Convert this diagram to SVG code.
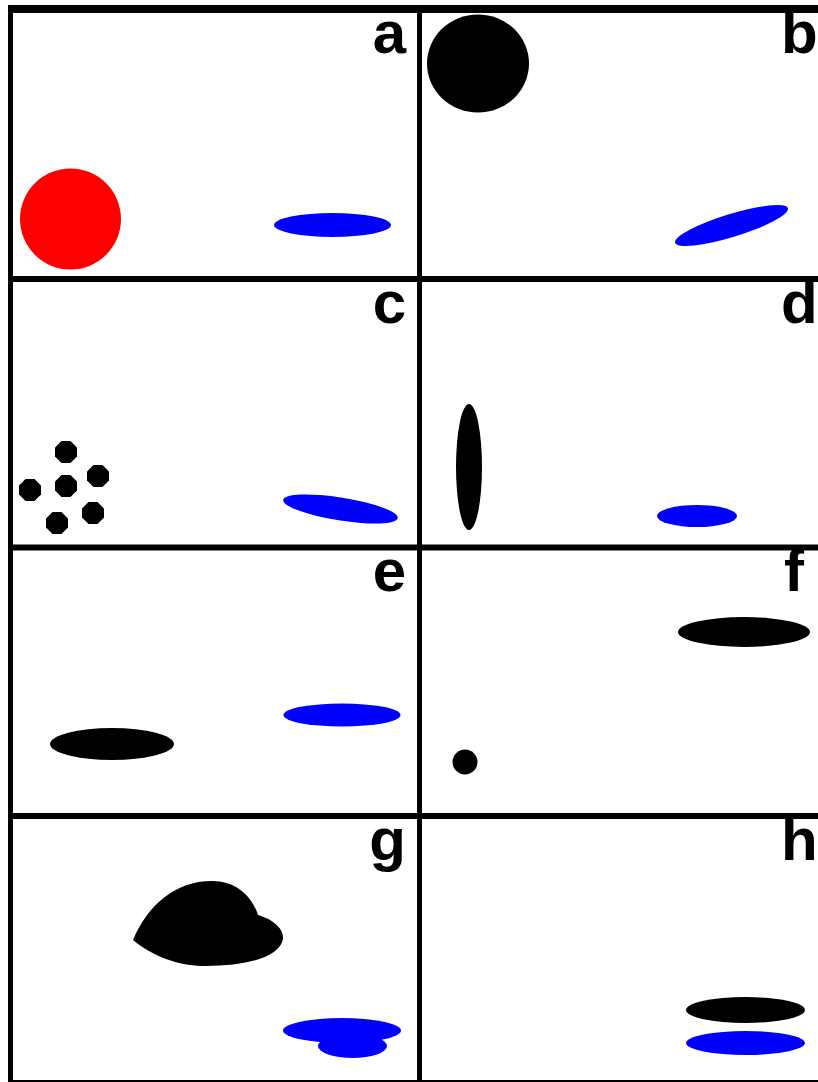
<svg xmlns="http://www.w3.org/2000/svg" width="818" height="1082" viewBox="0 0 818 1082">
<style>
.grid{stroke:#000;stroke-width:6;fill:none}
.lbl{font-family:"Liberation Sans",Arial,sans-serif;font-weight:bold;font-size:60px;fill:#000}
.blk{fill:#000}
.blu{fill:#0000ff}
.red{fill:#ff0000}
</style>
<defs>
<polygon id="oct" points="11,4.5 4.5,11 -4.5,11 -11,4.5 -11,-4.5 -4.5,-11 4.5,-11 11,-4.5"/>
</defs>
<rect x="0" y="0" width="818" height="1082" fill="#fff"/>
<g id="grid" class="grid">
<line x1="8" y1="9" x2="818" y2="9" stroke-width="8"/>
<line x1="10.5" y1="5" x2="10.5" y2="1082" stroke-width="5"/>
<line x1="419.5" y1="9" x2="419.5" y2="1082" stroke-width="5"/>
<line x1="8" y1="279" x2="818" y2="279"/>
<line x1="8" y1="547.5" x2="818" y2="547.5"/>
<line x1="8" y1="816" x2="818" y2="816"/>
<line x1="8" y1="1083" x2="818" y2="1083"/>
</g>
<g id="panel-a">
<circle class="red" cx="70.5" cy="219" r="50.5"/>
<ellipse class="blu" cx="332.5" cy="225" rx="58.5" ry="12"/>
<text class="lbl" x="406" y="53" text-anchor="end">a</text>
</g>
<g id="panel-b">
<ellipse class="blk" cx="478" cy="63.5" rx="51" ry="49"/>
<ellipse class="blu" cx="731.5" cy="225.5" rx="59" ry="11.5" transform="rotate(-17 731.5 225.5)"/>
<text class="lbl" x="781" y="53">b</text>
</g>
<g id="panel-c">
<use href="#oct" class="blk" transform="translate(66 452)"/>
<use href="#oct" class="blk" transform="translate(98 476)"/>
<use href="#oct" class="blk" transform="translate(30 490)"/>
<use href="#oct" class="blk" transform="translate(66 486)"/>
<use href="#oct" class="blk" transform="translate(93 513)"/>
<use href="#oct" class="blk" transform="translate(57 523)"/>
<ellipse class="blu" cx="340.5" cy="509" rx="58" ry="11.5" transform="rotate(9 340.5 509)"/>
<text class="lbl" x="406" y="323" text-anchor="end">c</text>
</g>
<g id="panel-d">
<ellipse class="blk" cx="469" cy="467" rx="13" ry="63"/>
<ellipse class="blu" cx="697" cy="516" rx="40" ry="11"/>
<text class="lbl" x="781" y="323">d</text>
</g>
<g id="panel-e">
<ellipse class="blk" cx="112" cy="744" rx="62" ry="16"/>
<ellipse class="blu" cx="342" cy="715" rx="58.5" ry="11.5"/>
<text class="lbl" x="406" y="591" text-anchor="end">e</text>
</g>
<g id="panel-f">
<ellipse class="blk" cx="744" cy="632" rx="66" ry="15"/>
<circle class="blk" cx="465" cy="762" r="12.5"/>
<text class="lbl" x="784" y="591">f</text>
</g>
<g id="panel-g">
<path class="blk" d="M133,940 C148,905 175,881 212,881 C236,881 252,896 258,915 C272,919 284,928 283,939 C280,956 250,966 205,966 C178,966 152,956 133,940 Z"/>
<ellipse class="blu" cx="352.5" cy="1046" rx="34.5" ry="12"/>
<ellipse class="blu" cx="342" cy="1030.5" rx="59" ry="12.5"/>
<text class="lbl" x="406" y="860" text-anchor="end">g</text>
</g>
<g id="panel-h">
<ellipse class="blk" cx="745.5" cy="1010" rx="59.5" ry="13"/>
<ellipse class="blu" cx="745.5" cy="1043" rx="59.5" ry="12"/>
<text class="lbl" x="781" y="860">h</text>
</g>
</svg>
